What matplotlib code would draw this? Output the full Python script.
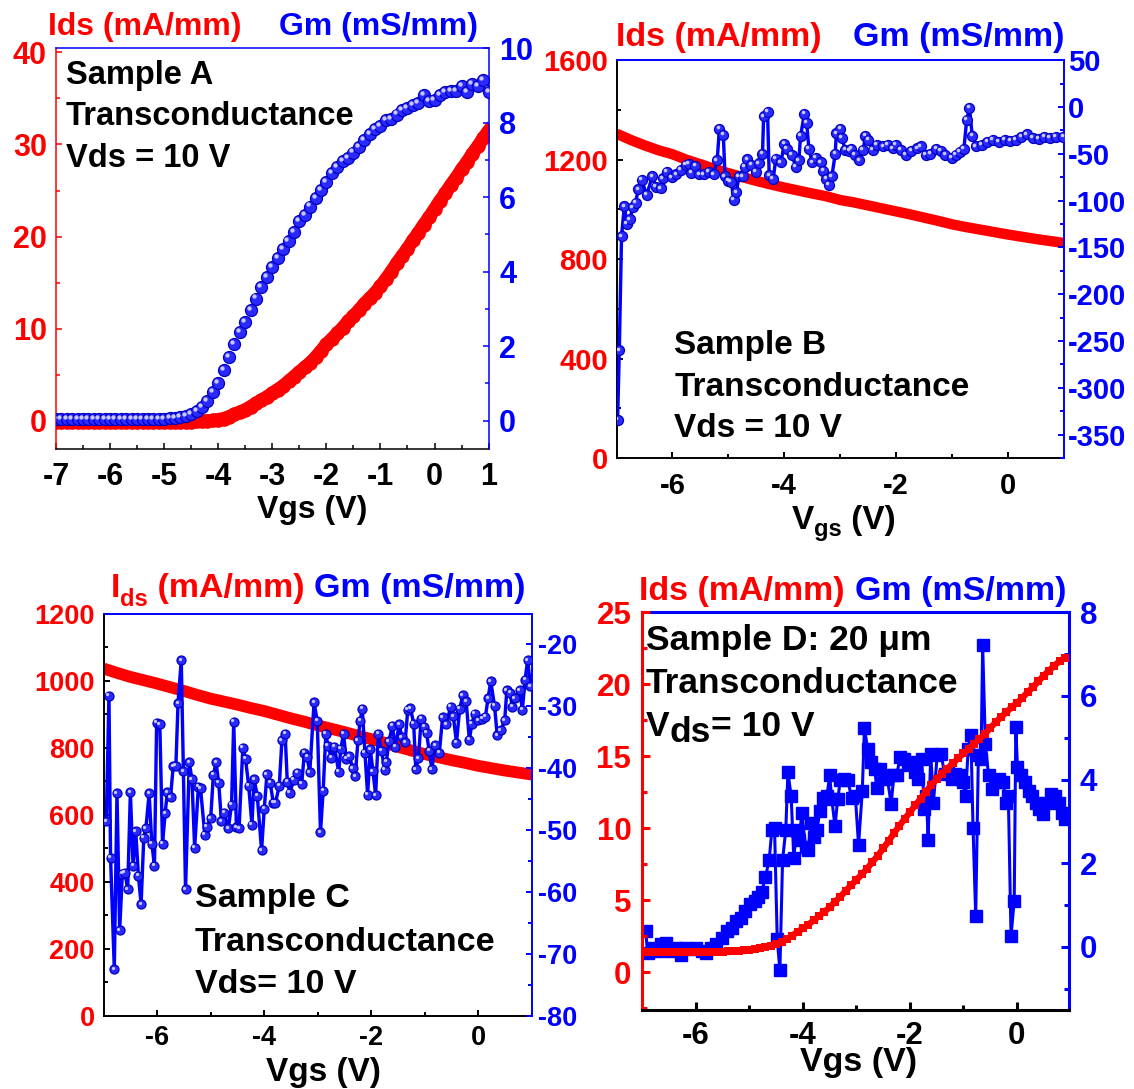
import matplotlib
matplotlib.use("Agg")
import matplotlib.pyplot as plt
from matplotlib.ticker import MultipleLocator
from matplotlib.transforms import offset_copy

plt.rcParams["font.family"] = ["Liberation Sans", "DejaVu Sans"]
plt.rcParams["font.weight"] = "bold"
plt.rcParams["axes.unicode_minus"] = False

RED = "#ff0000"
BLUE = "#0000ff"

# ---------------- Sample A ----------------
a_vgs = [-7.0, -6.9, -6.8, -6.7, -6.6, -6.5, -6.4, -6.3, -6.2, -6.1,
         -6.0, -5.9, -5.8, -5.7, -5.6, -5.5, -5.4, -5.3, -5.2, -5.1,
         -5.0, -4.9, -4.8, -4.7, -4.6, -4.5, -4.4, -4.3, -4.2, -4.1,
         -4.0, -3.9, -3.8, -3.7, -3.6, -3.5, -3.4, -3.3, -3.2, -3.1,
         -3.0, -2.9, -2.8, -2.7, -2.6, -2.5, -2.4, -2.3, -2.2, -2.1,
         -2.0, -1.9, -1.8, -1.7, -1.6, -1.5, -1.4, -1.3, -1.2, -1.1,
         -1.0, -0.9, -0.8, -0.7, -0.6, -0.5, -0.4, -0.3, -0.2, -0.1,
         0.0, 0.1, 0.2, 0.3, 0.4, 0.5, 0.6, 0.7, 0.8, 0.9, 1.0]
a_ids = [-0.1, -0.1, -0.1, -0.1, -0.1, -0.1, -0.1, -0.1, -0.1, -0.1,
         -0.1, -0.1, -0.1, -0.1, -0.1, -0.1, -0.1, -0.1, -0.1, -0.1,
         -0.1, -0.1, -0.1, -0.1, -0.1, -0.1, -0.05, -0.02, 0.0, 0.05,
         0.12, 0.25, 0.45, 0.7, 0.95, 1.2, 1.55, 1.9, 2.25, 2.6,
         3.0, 3.4, 3.8, 4.3, 4.8, 5.3, 5.8, 6.3, 6.9, 7.6,
         8.3, 8.9, 9.5, 10.1, 10.8, 11.4, 12.0, 12.7, 13.3, 13.9,
         14.6, 15.4, 16.2, 17.1, 17.9, 18.7, 19.6, 20.4, 21.3, 22.1,
         23.0, 23.9, 24.7, 25.6, 26.4, 27.3, 28.1, 29.0, 29.8, 30.7, 31.5]
a_gm = [0.05, 0.04, 0.05, 0.04, 0.05, 0.04, 0.04, 0.05, 0.04, 0.04,
        0.05, 0.04, 0.04, 0.04, 0.05, 0.04, 0.04, 0.04, 0.05, 0.05,
        0.05, 0.06, 0.07, 0.09, 0.12, 0.18, 0.26, 0.38, 0.53, 0.76,
        1.02, 1.35, 1.70, 2.06, 2.38, 2.66, 2.96, 3.28, 3.58, 3.85,
        4.12, 4.37, 4.62, 4.83, 5.06, 5.35, 5.53, 5.75, 5.98, 6.20,
        6.42, 6.64, 6.82, 6.96, 7.05, 7.20, 7.36, 7.53, 7.70, 7.82,
        7.92, 8.07, 8.10, 8.22, 8.33, 8.40, 8.47, 8.52, 8.75, 8.58,
        8.62, 8.74, 8.82, 8.85, 8.86, 8.98, 8.82, 9.03, 8.98, 9.14, 8.82]

# ---------------- Sample B ----------------
b_vgs_ids = [-7.0, -6.75, -6.5, -6.25, -6.0, -5.75, -5.5, -5.25, -5.0, -4.75, -4.5,
             -4.25, -4.0, -3.75, -3.5, -3.25, -3.0, -2.75, -2.5, -2.25, -2.0, -1.75,
             -1.5, -1.25, -1.0, -0.75, -0.5, -0.25, 0.0, 0.25, 0.5, 0.75, 1.0]
b_ids = [1305, 1280, 1258, 1238, 1222, 1200, 1182, 1163, 1146, 1130, 1115,
         1101, 1088, 1076, 1064, 1053, 1038, 1028, 1016, 1004, 992, 980,
         967, 954, 940, 929, 919, 909, 899, 890, 881, 873, 865]
b_vgs_gm = [-6.98, -6.95, -6.91, -6.86, -6.81, -6.76, -6.71, -6.66, -6.61, -6.55,
            -6.46, -6.36, -6.30, -6.21, -6.17, -6.10, -6.01, -5.93, -5.85, -5.76,
            -5.71, -5.66, -5.59, -5.52, -5.44, -5.35, -5.26, -5.20, -5.16, -5.09,
            -5.06, -5.00, -4.95, -4.90, -4.86, -4.81, -4.74, -4.71, -4.66, -4.59,
            -4.51, -4.45, -4.39, -4.37, -4.30, -4.27, -4.20, -4.15, -4.06, -4.00,
            -3.95, -3.87, -3.79, -3.74, -3.71, -3.64, -3.60, -3.56, -3.50, -3.43,
            -3.35, -3.30, -3.25, -3.20, -3.15, -3.09, -3.07, -3.00, -2.97, -2.91,
            -2.84, -2.80, -2.74, -2.66, -2.59, -2.55, -2.50, -2.42, -2.34, -2.23,
            -2.15, -2.06, -2.00, -1.92, -1.83, -1.73, -1.62, -1.56, -1.47, -1.39,
            -1.28, -1.20, -1.12, -1.01, -0.93, -0.86, -0.79, -0.74, -0.69, -0.64,
            -0.57, -0.47, -0.37, -0.27, -0.17, -0.06, 0.04, 0.14, 0.24, 0.34,
            0.44, 0.55, 0.65, 0.75, 0.85, 0.99]
b_gm = [-334, -260, -138, -106, -125, -120, -107, -102, -88, -78,
        -94, -74, -85, -87, -76, -69, -75, -72, -67, -62,
        -61, -70, -63, -72, -72, -69, -72, -57, -23, -30,
        -74, -79, -80, -99, -91, -74, -74, -64, -56, -62,
        -69, -60, -50, -10, -5, -73, -77, -55, -59, -39,
        -45, -51, -64, -57, -31, -7, -17, -45, -59, -54,
        -59, -68, -77, -83, -74, -50, -28, -23, -33, -46,
        -47, -45, -51, -57, -46, -31, -35, -46, -40, -42,
        -40, -44, -40, -46, -51, -47, -44, -42, -51, -50,
        -45, -47, -51, -54, -51, -48, -45, -14, -1, -31,
        -42, -40, -37, -35, -37, -35, -36, -35, -32, -29,
        -33, -34, -32, -33, -32, -32]

# ---------------- Sample C ----------------
c_vgs_ids = [-7.0, -6.75, -6.5, -6.25, -6.0, -5.75, -5.5, -5.25, -5.0, -4.75, -4.5,
             -4.25, -4.0, -3.75, -3.5, -3.25, -3.0, -2.75, -2.5, -2.25, -2.0, -1.75,
             -1.5, -1.25, -1.0, -0.75, -0.5, -0.25, 0.0, 0.25, 0.5, 0.75, 1.0]
c_ids = [1037, 1024, 1012, 1002, 992, 981, 970, 958, 947, 938, 929,
         919, 910, 899, 888, 878, 867, 857, 847, 836, 826, 815,
         803, 792, 781, 772, 763, 755, 746, 739, 732, 726, 720]
c_vgs_gm = [-6.95, -6.90, -6.87, -6.80, -6.75, -6.70, -6.65, -6.60, -6.55, -6.50,
            -6.45, -6.40, -6.35, -6.30, -6.25, -6.21, -6.15, -6.10, -6.05, -6.01,
            -5.95, -5.90, -5.85, -5.81, -5.75, -5.70, -5.65, -5.61, -5.55, -5.51,
            -5.47, -5.40, -5.35, -5.30, -5.23, -5.19, -5.11, -5.07, -5.00, -4.95,
            -4.90, -4.85, -4.80, -4.75, -4.67, -4.61, -4.57, -4.52, -4.47, -4.40,
            -4.35, -4.29, -4.23, -4.19, -4.13, -4.05, -4.00, -3.95, -3.89, -3.83,
            -3.79, -3.72, -3.67, -3.61, -3.57, -3.52, -3.45, -3.38, -3.30, -3.25,
            -3.20, -3.15, -3.07, -3.01, -2.95, -2.90, -2.85, -2.81, -2.75, -2.69,
            -2.61, -2.57, -2.52, -2.47, -2.41, -2.35, -2.30, -2.25, -2.21, -2.17,
            -2.12, -2.07, -2.02, -1.97, -1.92, -1.87, -1.81, -1.75, -1.72, -1.67,
            -1.61, -1.55, -1.48, -1.43, -1.37, -1.32, -1.27, -1.21, -1.17, -1.12,
            -1.07, -1.01, -0.97, -0.92, -0.87, -0.81, -0.73, -0.67, -0.60, -0.52,
            -0.47, -0.41, -0.35, -0.29, -0.23, -0.17, -0.12, -0.07, 0.00, 0.07,
            0.13, 0.18, 0.23, 0.30, 0.35, 0.42, 0.49, 0.53, 0.59, 0.63,
            0.68, 0.77, 0.82, 0.87, 0.92, 0.97]
c_gm = [-48.6, -28.3, -54.5, -72.5, -44.1, -66.2, -57.1, -56.9, -59.6, -43.9,
        -55.8, -50.2, -57.4, -62.0, -51.3, -49.7, -44.1, -52.2, -55.8, -32.7,
        -32.9, -52.2, -47.3, -43.9, -44.7, -39.7, -39.6, -29.5, -22.6, -40.5,
        -59.6, -39.1, -41.8, -52.9, -43.0, -43.3, -50.8, -49.5, -48.1, -41.1,
        -39.1, -42.4, -48.6, -47.2, -49.7, -45.9, -32.5, -49.6, -49.7, -36.7,
        -38.5, -42.9, -49.2, -41.8, -44.5, -53.3, -46.6, -41.0, -42.4, -45.6,
        -45.6, -42.9, -35.5, -34.5, -42.2, -44.0, -41.9, -40.8, -42.5, -37.5,
        -38.2, -40.7, -29.4, -32.4, -50.4, -43.7, -34.5, -36.4, -38.3, -36.6,
        -40.6, -36.9, -34.5, -38.5, -38.1, -40.0, -41.3, -35.5, -32.4, -30.4,
        -37.5, -44.3, -37.0, -40.5, -44.4, -34.5, -37.2, -40.3, -39.0, -35.7,
        -33.2, -36.6, -32.9, -35.0, -35.8, -30.6, -30.3, -32.8, -40.2, -38.4,
        -32.0, -33.3, -34.3, -37.2, -40.2, -36.3, -37.5, -31.8, -32.9, -30.1,
        -31.6, -35.9, -30.4, -28.2, -29.2, -35.4, -32.8, -31.2, -32.3, -32.0,
        -31.7, -28.7, -26.0, -29.9, -34.7, -33.9, -32.3, -27.4, -27.8, -30.1,
        -28.7, -27.4, -30.6, -25.7, -22.6, -26.8]

# ---------------- Sample D ----------------
d_vgs_ids = [-7.0, -6.9, -6.8, -6.7, -6.6, -6.5, -6.4, -6.3, -6.2, -6.1,
             -6.0, -5.9, -5.8, -5.7, -5.6, -5.5, -5.4, -5.3, -5.2, -5.1,
             -5.0, -4.9, -4.8, -4.7, -4.6, -4.5, -4.4, -4.3, -4.2, -4.1,
             -4.0, -3.9, -3.8, -3.7, -3.6, -3.5, -3.4, -3.3, -3.2, -3.1,
             -3.0, -2.9, -2.8, -2.7, -2.6, -2.5, -2.4, -2.3, -2.2, -2.1,
             -2.0, -1.9, -1.8, -1.7, -1.6, -1.5, -1.4, -1.3, -1.2, -1.1,
             -1.0, -0.9, -0.8, -0.7, -0.6, -0.5, -0.4, -0.3, -0.2, -0.1,
             0.0, 0.1, 0.2, 0.3, 0.4, 0.5, 0.6, 0.7, 0.8, 0.9]
d_ids = [1.4, 1.4, 1.4, 1.4, 1.4, 1.4, 1.4, 1.4, 1.4, 1.4,
         1.4, 1.4, 1.4, 1.4, 1.4, 1.4, 1.45, 1.48, 1.5, 1.53,
         1.57, 1.62, 1.68, 1.75, 1.84, 1.95, 2.08, 2.3, 2.55, 2.8,
         3.05, 3.3, 3.6, 3.9, 4.2, 4.5, 4.9, 5.25, 5.65, 6.05,
         6.4, 6.8, 7.2, 7.65, 8.1, 8.6, 9.1, 9.65, 10.15, 10.65,
         11.1, 11.6, 12.05, 12.55, 13.0, 13.4, 13.8, 14.15, 14.5, 14.85,
         15.2, 15.5, 15.85, 16.2, 16.55, 16.95, 17.35, 17.7, 18.05, 18.4,
         18.7, 19.05, 19.45, 19.8, 20.2, 20.6, 20.95, 21.3, 21.6, 21.85]
d_vgs_gm = [-6.94, -6.90, -6.82, -6.73, -6.65, -6.56, -6.48, -6.37, -6.28, -6.20,
            -6.10, -6.00, -5.89, -5.81, -5.71, -5.62, -5.52, -5.42, -5.33, -5.25,
            -5.16, -5.08, -4.99, -4.90, -4.84, -4.77, -4.70, -4.63, -4.58, -4.53,
            -4.48, -4.43, -4.38, -4.32, -4.28, -4.22, -4.17, -4.12, -4.07, -4.02,
            -3.95, -3.90, -3.85, -3.79, -3.74, -3.68, -3.62, -3.55, -3.50, -3.46,
            -3.40, -3.35, -3.30, -3.23, -3.16, -3.09, -3.02, -2.96, -2.89, -2.85,
            -2.79, -2.73, -2.66, -2.62, -2.55, -2.49, -2.42, -2.35, -2.30, -2.25,
            -2.18, -2.11, -2.04, -1.97, -1.91, -1.84, -1.78, -1.73, -1.69, -1.66,
            -1.61, -1.56, -1.49, -1.42, -1.35, -1.28, -1.22, -1.15, -1.08, -1.01,
            -0.96, -0.91, -0.86, -0.82, -0.77, -0.72, -0.67, -0.64, -0.59, -0.53,
            -0.46, -0.40, -0.33, -0.26, -0.20, -0.16, -0.11, -0.05, -0.02, 0.01,
            0.08, 0.15, 0.22, 0.29, 0.36, 0.42, 0.49, 0.56, 0.64, 0.71,
            0.78, 0.85, 0.90]
d_gm = [0.38, -0.15, -0.02, -0.10, 0.06, 0.10, -0.10, -0.02, -0.19, -0.02,
        -0.06, -0.02, -0.10, -0.15, -0.02, 0.06, 0.22, 0.38, 0.46, 0.62,
        0.70, 0.86, 1.03, 1.11, 1.19, 1.31, 1.67, 2.08, 2.80, 2.84,
        0.18, -0.55, 2.08, 2.80, 4.18, 3.61, 2.12, 2.80, 2.56, 3.21,
        2.40, 2.32, 2.97, 2.64, 2.80, 3.25, 3.57, 3.61, 4.10, 3.53,
        2.88, 3.53, 3.98, 4.02, 3.98, 3.57, 3.61, 2.44, 3.73, 5.23,
        4.74, 4.42, 4.26, 3.81, 4.26, 4.10, 4.02, 3.41, 4.10, 4.10,
        4.54, 4.50, 4.34, 4.42, 4.18, 4.02, 4.50, 3.29, 3.61, 2.56,
        4.62, 3.45, 4.58, 4.62, 4.14, 4.18, 4.02, 4.14, 4.10, 3.94,
        3.61, 4.74, 5.07, 2.84, 0.74, 4.58, 4.50, 7.21, 4.86, 4.10,
        3.77, 3.94, 4.02, 3.94, 3.45, 3.61, 0.26, 1.11, 5.27, 4.30,
        4.10, 3.94, 3.73, 3.61, 3.45, 3.29, 3.17, 3.45, 3.65, 3.61,
        3.45, 3.21, 3.05]

# ---------------- figure helpers ----------------
W, H = 1134, 1089
fig = plt.figure(figsize=(W / 100, H / 100), dpi=100)
renderer = fig.canvas.get_renderer()


def frame(l, t, r, b):
    return fig.add_axes([l / W, 1 - b / H, (r - l) / W, (b - t) / H])


def put(x, y, pieces):
    """Write text pieces one after another along a baseline (pixel coords)."""
    for s, size, color, dy in pieces:
        t = fig.text(x / W, 1 - (y + dy) / H, s, fontsize=size, color=color,
                     fontweight="bold", ha="left", va="baseline")
        x = t.get_window_extent(renderer).x1


def style(ax, ax2, xlim, ylim, y2lim, xt, yt, y2t, left_color, lw, fs,
          pads, tick_len):
    ax.set_xlim(*xlim)
    ax.set_ylim(*ylim)
    ax2.set_ylim(*y2lim)
    ax.xaxis.set_major_locator(MultipleLocator(xt[0]))
    ax.xaxis.set_minor_locator(MultipleLocator(xt[1]))
    ax.yaxis.set_major_locator(MultipleLocator(yt[0]))
    ax.yaxis.set_minor_locator(MultipleLocator(yt[1]))
    ax2.yaxis.set_major_locator(MultipleLocator(y2t[0]))
    ax2.yaxis.set_minor_locator(MultipleLocator(y2t[1]))
    ax.spines["top"].set_visible(False)
    ax.spines["right"].set_visible(False)
    ax2.spines["left"].set_visible(False)
    ax2.spines["bottom"].set_visible(False)
    ax.spines["left"].set_color(left_color)
    ax.spines["bottom"].set_color("black")
    ax2.spines["top"].set_color(BLUE)
    ax2.spines["right"].set_color(BLUE)
    for sp in list(ax.spines.values()) + list(ax2.spines.values()):
        sp.set_linewidth(lw)
    ax.tick_params(axis="x", which="both", direction="in", top=False,
                   color="black", labelcolor="black", labelsize=fs,
                   pad=pads[2], width=lw)
    ax.tick_params(axis="y", which="both", direction="in", right=False,
                   color=left_color, labelcolor=RED, labelsize=fs,
                   pad=pads[0], width=lw)
    ax2.tick_params(axis="y", which="both", direction="in", left=False,
                    color=BLUE, labelcolor=BLUE, labelsize=fs,
                    pad=pads[1], width=lw)
    for a in (ax, ax2):
        a.tick_params(which="major", length=tick_len)
        a.tick_params(which="minor", length=tick_len * 0.6)
    ax2.set_xlim(*xlim)


def spheres(ax, x, y, d_px, line_px=0.0):
    ms = d_px * 0.72
    if line_px:
        ax.plot(x, y, "-", color=BLUE, lw=line_px * 0.72, zorder=2)
    ax.plot(x, y, ls="none", marker="o", ms=ms, mfc="#2a2aff", mec="#0000c0",
            mew=0.9, zorder=3)
    hl = offset_copy(ax.transData, fig=fig, x=-ms * 0.17, y=ms * 0.17,
                     units="points")
    ax.plot(x, y, ls="none", marker="o", ms=ms * 0.36, mfc="#c8c8ff",
            mec="none", transform=hl, zorder=4)


# ---------------- Sample A ----------------
axA = frame(56, 48.2, 488.6, 449.4)
axA2 = axA.twinx()
style(axA, axA2, (-7, 1), (-3.1, 40.45), (-0.77, 10), (1, 0.5), (10, 5), (2, 1),
      RED, 1.1, 22, (6.5, 7.5, 9), 4.5)
axA.plot(a_vgs, a_ids, "-", color=RED, lw=9.5, marker="o", ms=9.5, mfc=RED,
         mec=RED)
spheres(axA2, a_vgs, a_gm, 12.0)
put(48, 35.5, [("Ids (mA/mm)", 23, RED, 0)])
put(279, 35.5, [("Gm (mS/mm)", 23, BLUE, 0)])
put(66, 83.7, [("Sample A", 23.5, "black", 0)])
put(66, 124.7, [("Transconductance", 23.5, "black", 0)])
put(66, 167, [("Vds = 10 V", 23.5, "black", 0)])
put(257, 518, [("Vgs (V)", 23, "black", 0)])

# ---------------- Sample B ----------------
axB = frame(616.5, 60.3, 1064, 458)
axB2 = axB.twinx()
style(axB, axB2, (-7, 1), (0, 1600), (-375, 50), (2, 1), (400, 200), (50, 25),
      "black", 1.4, 21, (6, 3, 10), 4.5)
axB.plot(b_vgs_ids, b_ids, "-", color=RED, lw=7.5, solid_capstyle="butt")
spheres(axB2, b_vgs_gm, b_gm, 10.0, line_px=3.4)
put(616, 45.8, [("Ids (mA/mm)", 24.5, RED, 0)])
put(852.5, 45.8, [("Gm (mS/mm)", 24.5, BLUE, 0)])
put(674.5, 354, [("Sample B", 24, "black", 0)])
put(674.5, 396, [("Transconductance", 24, "black", 0)])
put(674.5, 436.6, [("Vds = 10 V", 24, "black", 0)])
put(792, 528.6, [("V", 24, "black", 0), ("gs", 17, "black", 7),
                 (" (V)", 24, "black", 0)])

# ---------------- Sample C ----------------
axC = frame(103.6, 614, 532, 1015.5)
axC2 = axC.twinx()
style(axC, axC2, (-7, 1), (0, 1200), (-80, -15.1), (2, 1), (200, 100), (10, 5),
      "black", 1.4, 19.5, (6.5, 4, 7), 4.5)
axC.plot(c_vgs_ids, c_ids, "-", color=RED, lw=8.5, solid_capstyle="butt")
spheres(axC2, c_vgs_gm, c_gm, 9.0, line_px=3.4)
put(110.7, 597, [("I", 24.5, RED, 0), ("ds", 17, RED, 9),
                 (" (mA/mm)", 24.5, RED, 0)])
put(314, 597, [("Gm (mS/mm)", 24.5, BLUE, 0)])
put(194.6, 907.5, [("Sample C", 24.5, "black", 0)])
put(194.6, 951.4, [("Transconductance", 24.5, "black", 0)])
put(194.6, 992.9, [("Vds= 10 V", 24.5, "black", 0)])
put(266, 1081.3, [("Vgs (V)", 24, "black", 0)])

# ---------------- Sample D ----------------
axD = frame(642.4, 612.3, 1068.8, 1009.7)
axD2 = axD.twinx()
style(axD, axD2, (-7, 0.97), (-2.6, 25), (-1.5, 8), (2, 1), (5, 2.5), (2, 1),
      RED, 2.2, 22.5, (8, 8, 8), 5.5)
axD.set_zorder(axD2.get_zorder() + 1)
axD.patch.set_visible(False)
axD.plot(d_vgs_ids, d_ids, "-", color=RED, lw=4.6, marker="s", ms=5.6,
         mfc=RED, mec=RED, mew=0)
axD2.plot(d_vgs_gm, d_gm, "-", color=BLUE, lw=2.2, marker="s", ms=8.0,
          mfc=BLUE, mec=BLUE)
put(638.7, 599.8, [("Ids (mA/mm)", 24.5, RED, 0)])
put(854.7, 599.8, [("Gm (mS/mm)", 24.5, BLUE, 0)])
put(646, 650.4, [("Sample D: 20 \u03bcm", 25.5, "black", 0)])
put(646, 692.6, [("Transconductance", 25.5, "black", 0)])
put(646, 736.5, [("V", 25.5, "black", 0), ("ds", 25.5, "black", 5),
                 ("= 10 V", 25.5, "black", 0)])
put(800, 1071, [("Vgs (V)", 24.5, "black", 0)])

fig.savefig("out.png", dpi=100)
